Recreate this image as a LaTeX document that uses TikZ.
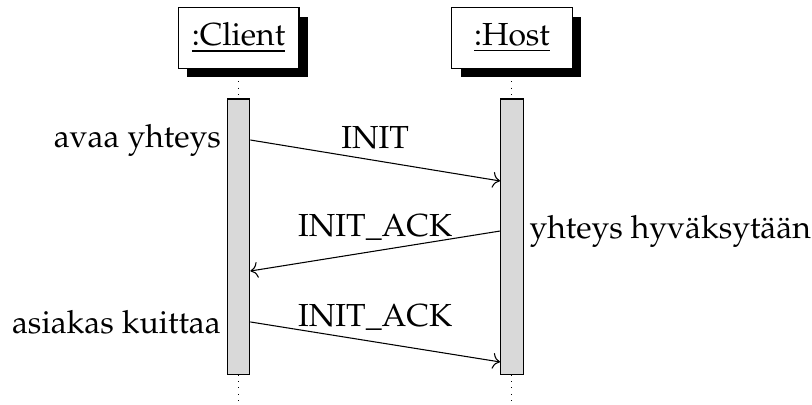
\documentclass[12pt,tikz,border=0pt]{standalone}
\usepackage[T1]{fontenc}
\usepackage{mathpazo}
\usetikzlibrary{%
  shadows,%
  calc,%
  arrows.meta%
}
\tikzset{
  >={To[length=2.8pt,width=6pt]},
  inst/.style={draw, fill=white, minimum width=1.6cm, minimum height=0.8cm,
    drop shadow={shadow xshift=3.4pt, shadow yshift=-3.4pt, opacity=1, fill=black}},
  callbar/.style={draw, fill=gray!30, minimum width=0.3cm, minimum height=3.65cm, inner sep=0pt},
  note/.style={inner sep=2pt}
}

\begin{document}
\begin{tikzpicture}
\useasboundingbox (0,0) rectangle (10.741,-5.357);
\node[inst] (client) at (3.155,-0.5) {\underline{:Client}};
\node[inst] (host) at (6.772,-0.5) {\underline{:Host}};
\draw[dotted] (client.south) -- (client.south |- 0,-5.357);
\draw[dotted] (host.south) -- (host.south |- 0,-5.357);
\node[callbar] (clientbar) at (3.155,-3.135) {};
\node[callbar] (hostbar) at (6.772,-3.135) {};
\coordinate (init1) at (clientbar.east |- 0,-1.852);
\coordinate (init2) at (hostbar.west |- 0,-2.394);
\coordinate (ack1) at (hostbar.west |- 0,-3.056);
\coordinate (ack2) at (clientbar.east |- 0,-3.585);
\coordinate (ack3) at (clientbar.east |- 0,-4.259);
\coordinate (ack4) at (hostbar.west |- 0,-4.788);
\draw[->] (init1) -- node[above] (initlbl) {INIT} (init2);
\draw[->] (ack1) -- node[above] (acklbl) {INIT\_ACK} (ack2);
\draw[->] (ack3) -- node[above] (ack2lbl) {INIT\_ACK} (ack4);
\node[note, anchor=east] (open) at (clientbar.west |- init1) {avaa yhteys};
\node[note, anchor=west] (accept) at (hostbar.east |- ack1) {yhteys hyväksytään};
\node[note, anchor=east] (confirm) at (clientbar.west |- ack3) {asiakas kuittaa};
\end{tikzpicture}
\end{document}
